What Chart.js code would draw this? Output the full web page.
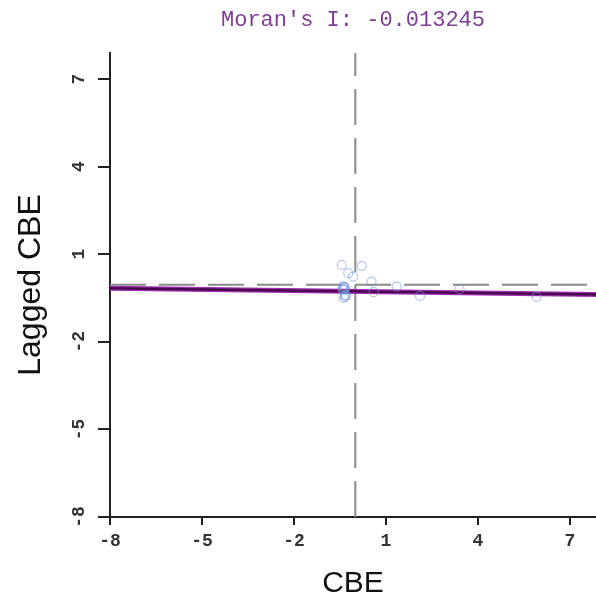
<!DOCTYPE html>
<html>
<head>
<meta charset="utf-8">
<script src="https://cdn.jsdelivr.net/npm/chart.js@4/dist/chart.umd.min.js"></script>
<style>
html,body{margin:0;padding:0;background:#fff;overflow:hidden;}
canvas{display:block;}
</style>
</head>
<body>
<canvas id="c" width="596" height="602"></canvas>
<script>
// Data
const titleText = "Moran's I: -0.013245";
const xTitle = "CBE";
const yTitle = "Lagged CBE";
const xTickValues = [-8, -5, -2, 1, 4, 7];
const yTickValues = [-8, -5, -2, 1, 4, 7];
const pointsX = [-0.44, -0.23, 0.21, -0.07, 0.53, 0.60, -0.39, -0.36, -0.42, -0.33, -0.40, -0.37, -0.34, -0.30, -0.38, -0.32, 1.35, 2.11, 3.40, 5.91];
const pointsY = [0.63, 0.35, 0.60, 0.23, 0.06, -0.30, -0.17, -0.12, -0.20, -0.15, -0.10, -0.22, -0.46, -0.40, -0.50, -0.42, -0.11, -0.43, -0.20, -0.46];
const regLineX = [-8, 7.85];
const regLineY = [-0.17, -0.38];
const meanX = 0;
const meanY = -0.05;
const xRange = [-8, 7.85];
const yRange = [-8, 7.89];

const pts = pointsX.map((x, i) => ({x: x, y: pointsY[i]}));
const reg = regLineX.map((x, i) => ({x: x, y: regLineY[i]}));
const vDash = [{x: meanX, y: yRange[0]}, {x: meanX, y: yRange[1]}];
const hDash = [{x: xRange[0], y: meanY}, {x: xRange[1], y: meanY}];

const tickFont = {family: "'Liberation Mono', monospace", size: 18, weight: 'bold'};

new Chart(document.getElementById('c'), {
  type: 'scatter',
  data: {
    datasets: [
      {data: vDash, showLine: true, borderColor: '#8a8a8a', borderWidth: 2, borderDash: [36, 13], pointRadius: 0, order: 4},
      {data: hDash, showLine: true, borderColor: '#8a8a8a', borderWidth: 2, borderDash: [36, 13], pointRadius: 0, order: 4},
      {data: reg, showLine: true, borderColor: '#a030b0', borderWidth: 5, pointRadius: 0, order: 3},
      {data: reg, showLine: true, borderColor: '#4a0850', borderWidth: 2.5, pointRadius: 0, order: 2},
      {data: pts, pointRadius: 4.5, pointBorderWidth: 1.2, pointBorderColor: 'rgba(110,150,220,0.55)', pointBackgroundColor: 'rgba(0,0,0,0)', order: 1}
    ]
  },
  options: {
    responsive: false,
    animation: false,
    devicePixelRatio: 1,
    layout: {padding: 0, autoPadding: false},
    plugins: {
      legend: {display: false},
      tooltip: {enabled: false},
      title: {
        display: true,
        text: titleText,
        fullSize: false,
        color: '#7e3d96',
        font: {family: "'Liberation Mono', monospace", size: 22, weight: 'normal', lineHeight: 1.2},
        padding: {top: 7, bottom: 19.6}
      }
    },
    scales: {
      x: {
        type: 'linear',
        min: xRange[0], max: xRange[1],
        afterBuildTicks: s => { s.ticks = xTickValues.map(v => ({value: v})); },
        afterFit: s => { s.height = 85; s.paddingRight = 0; s.paddingLeft = 0; },
        border: {display: true, color: '#222', width: 2},
        grid: {display: true, drawOnChartArea: false, drawTicks: true, tickLength: 8, color: '#222', lineWidth: 2},
        ticks: {color: '#333', font: tickFont, padding: 6, maxRotation: 0, autoSkip: false},
        title: {display: true, text: xTitle, color: '#111', font: {family: "'Liberation Sans', Arial, sans-serif", size: 30, lineHeight: 1.2}, padding: {top: 5, bottom: 0}}
      },
      y: {
        type: 'linear',
        min: yRange[0], max: yRange[1],
        afterBuildTicks: s => { s.ticks = yTickValues.map(v => ({value: v})); },
        afterFit: s => { s.width = 110; s.paddingTop = 0; s.paddingBottom = 0; },
        border: {display: true, color: '#222', width: 2},
        grid: {display: true, drawOnChartArea: false, drawTicks: true, tickLength: 12, color: '#222', lineWidth: 2},
        ticks: {color: '#333', font: tickFont, padding: 8, minRotation: 90, maxRotation: 90, crossAlign: 'center', autoSkip: false},
        title: {display: true, text: yTitle, color: '#111', font: {family: "'Liberation Sans', Arial, sans-serif", size: 32, lineHeight: 1.2}, padding: {top: 12, bottom: 0}}
      }
    }
  }
});
</script>
</body>
</html>
